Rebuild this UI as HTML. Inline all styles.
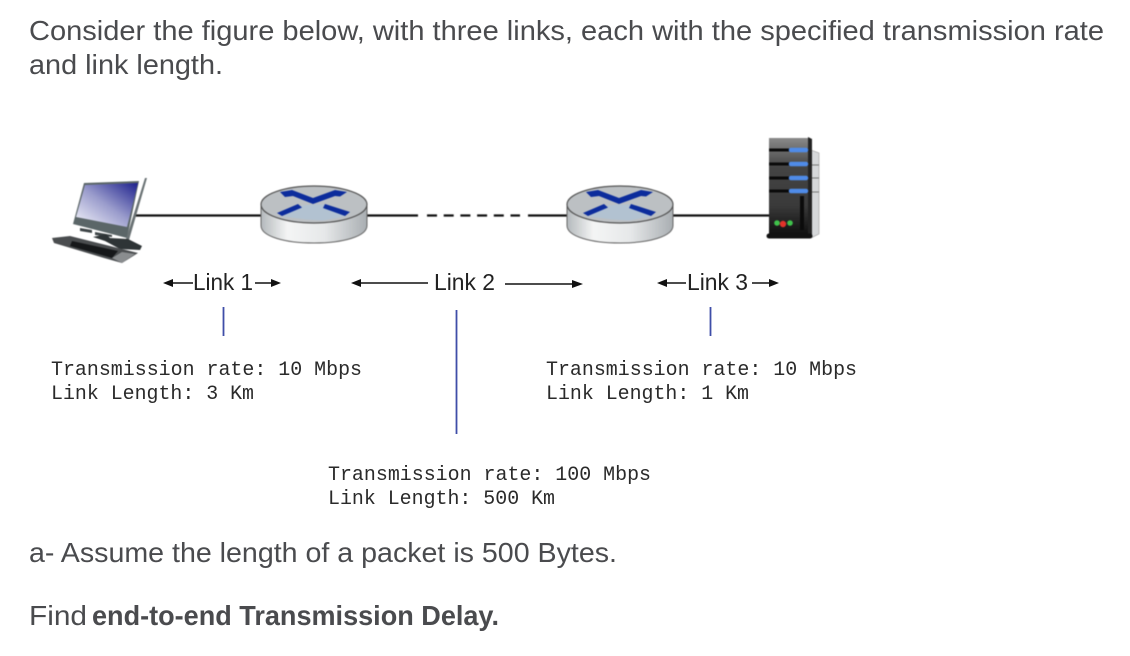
<!DOCTYPE html>
<html><head><meta charset="utf-8"><style>
html,body{margin:0;padding:0;background:#fff;width:1130px;height:656px;overflow:hidden}
svg{display:block}
.h{font-family:"Liberation Sans",sans-serif;font-size:28px;fill:#4a4b4e}
.m{font-family:"Liberation Mono",monospace;font-size:20px;fill:#2a2a2a}
.l{font-family:"Liberation Sans",sans-serif;font-size:23px;fill:#222}
.icons{filter:blur(.45px)}
</style></head><body>
<svg width="1130" height="656" viewBox="0 0 1130 656" xmlns="http://www.w3.org/2000/svg">
<defs>
<linearGradient id="side" x1="0" x2="1" y1="0" y2="0"><stop offset="0" stop-color="#b4b9bc"/><stop offset=".25" stop-color="#f4f5f5"/><stop offset=".6" stop-color="#e6e8e9"/><stop offset="1" stop-color="#a9aeb2"/></linearGradient>
<linearGradient id="scr" x1="0" x2="1" y1="1" y2="0"><stop offset="0" stop-color="#f6f6fc"/><stop offset=".5" stop-color="#9a9ccc"/><stop offset="1" stop-color="#1c1f8c"/></linearGradient>
<linearGradient id="srv" x1="0" x2="0" y1="0" y2="1"><stop offset="0" stop-color="#8a8a8a"/><stop offset=".3" stop-color="#444"/><stop offset=".7" stop-color="#3a3a3a"/><stop offset="1" stop-color="#0e0e0e"/></linearGradient>
<g id="router">
<path d="M0 3V22C0 33 24 39.500 53 39.500S106 33 106 22V3Z" fill="url(#side)" stroke="#666" stroke-width="1"/>
<ellipse cx="53" cy="0" rx="53" ry="18.500" fill="#bcc0c3" stroke="#555" stroke-width="1.200" transform="translate(0 1)"/>
<path d="M52 1 64 1 84 13 62 17 45 16 22 13 41 2Z" fill="#a9c2dc" opacity=".55"/>
<path d="M19-11.500 31-13.500 52-5.500 74-13.500 86-11.500 79-7 74-7.500 52 .5 32-7.500 24-6.500Z" fill="#0c2c9c"/>
<path d="M16 9.500 37 .5 41 4 21 12.500Z" fill="#0c2c9c"/>
<path d="M64 .5 89 8.500 84 12.500 62 4.500Z" fill="#0c2c9c"/>
</g>
</defs>

<text class="h" x="29" y="40" textLength="1075" lengthAdjust="spacingAndGlyphs">Consider the figure below, with three links, each with the specified transmission rate</text>
<text class="h" x="29" y="74" textLength="194" lengthAdjust="spacingAndGlyphs">and link length.</text>

<g class="icons">
<!-- wires -->
<path d="M135 215.500H262" stroke="#111" stroke-width="2.200"/>
<path d="M366 215.500H418" stroke="#111" stroke-width="2.200"/>
<path d="M427 215.500H520" stroke="#111" stroke-width="2.200" stroke-dasharray="10 6.700"/>
<path d="M528 215.500H568" stroke="#111" stroke-width="2.200"/>
<path d="M672 215.500H770" stroke="#111" stroke-width="2.200"/>

<!-- computer -->
<path d="M73 224 84 183 139 181 127 238Z" fill="#5b6668"/>
<path d="M76 217 85 185 138 183 127 227Z" fill="url(#scr)"/>
<path d="M145 178 147 178 129 240 126 239Z" fill="#6a7274"/>
<path d="M80 228 92 230 92 233 80 231ZM95 232 112 235 112 237 95 235Z" fill="#3d4446"/>
<path d="M93 237 106 234 110 238 128 239 142 246 140 250 120 249 105 241Z" fill="#2e3436"/>
<path d="M52 238 70 236 138 253 122 263 104 258 54 243Z" fill="#4a4d4f"/>
<path d="M72 241 118 251 112 258 70 246Z" fill="#16181a"/>
<path d="M112 258 122 252 135 254 122 263Z" fill="#8a8d8f"/>

<!-- routers -->
<use href="#router" x="261" y="203.500"/>
<use href="#router" x="567" y="203.500"/>

<!-- server -->
<path d="M811 150 819 153V234L811 238Z" fill="#d6d8da" stroke="#999" stroke-width=".6"/>
<path d="M812 165H819M812 178H819M812 192H819" stroke="#777" stroke-width="1"/>
<path d="M769 138H808V235H769Z" fill="url(#srv)"/>
<path d="M808 137 812 139V236H808Z" fill="#222"/>
<path d="M769 150H808M769 164H808M769 178H808M769 191H808" stroke="#0a0a0a" stroke-width="3"/>
<path d="M791 150H806M791 164H806M791 178H806M791 191H806" stroke="#4f8be8" stroke-width="4.500" stroke-linecap="round"/>
<path d="M802 196V230" stroke="#0b0b0b" stroke-width="4"/>
<circle cx="777" cy="223" r="2.800" fill="#3fc24b"/><circle cx="783" cy="224" r="3.200" fill="#e0332a"/><circle cx="790" cy="223" r="2.800" fill="#3fc24b"/>
<path d="M769 236H810" stroke="#111" stroke-width="5" stroke-linecap="round"/>
</g>

<!-- link labels -->
<text class="l" x="193" y="290" textLength="60" lengthAdjust="spacingAndGlyphs">Link 1</text>
<text class="l" x="434" y="290" textLength="61" lengthAdjust="spacingAndGlyphs">Link 2</text>
<text class="l" x="687" y="290" textLength="61" lengthAdjust="spacingAndGlyphs">Link 3</text>
<g stroke="#111" stroke-width="1.600">
<path d="M170 283H193M255 283H274M358 283H428M505 284H574M664 283H686M752 283H771"/>
</g>
<g fill="#111">
<path d="M163 283 173 279V287Z"/><path d="M281 283 271 279V287Z"/>
<path d="M351 283 361 279V287Z"/><path d="M583 284 572 280V288Z"/>
<path d="M657 283 667 279V287Z"/><path d="M779 283 769 279V287Z"/>
</g>

<!-- blue bars -->
<path d="M223.500 307V336M456.500 310V434M710.500 307V336" stroke="#3f4ea8" stroke-width="1.800"/>

<!-- mono text -->
<text class="m" x="51" y="375" textLength="311" lengthAdjust="spacingAndGlyphs">Transmission rate: 10 Mbps</text>
<text class="m" x="51" y="399" textLength="203" lengthAdjust="spacingAndGlyphs">Link Length: 3 Km</text>
<text class="m" x="546" y="375" textLength="311" lengthAdjust="spacingAndGlyphs">Transmission rate: 10 Mbps</text>
<text class="m" x="546" y="399" textLength="203" lengthAdjust="spacingAndGlyphs">Link Length: 1 Km</text>
<text class="m" x="328" y="480" textLength="323" lengthAdjust="spacingAndGlyphs">Transmission rate: 100 Mbps</text>
<text class="m" x="328" y="504" textLength="227" lengthAdjust="spacingAndGlyphs">Link Length: 500 Km</text>

<text class="h" x="29" y="562" textLength="588" lengthAdjust="spacingAndGlyphs">a- Assume the length of a packet is 500 Bytes.</text>
<text class="h" x="29" y="625" textLength="58" lengthAdjust="spacingAndGlyphs">Find</text>
<text class="h" x="92" y="625" font-weight="700" textLength="407" lengthAdjust="spacingAndGlyphs">end-to-end Transmission Delay.</text>
</svg>
</body></html>
